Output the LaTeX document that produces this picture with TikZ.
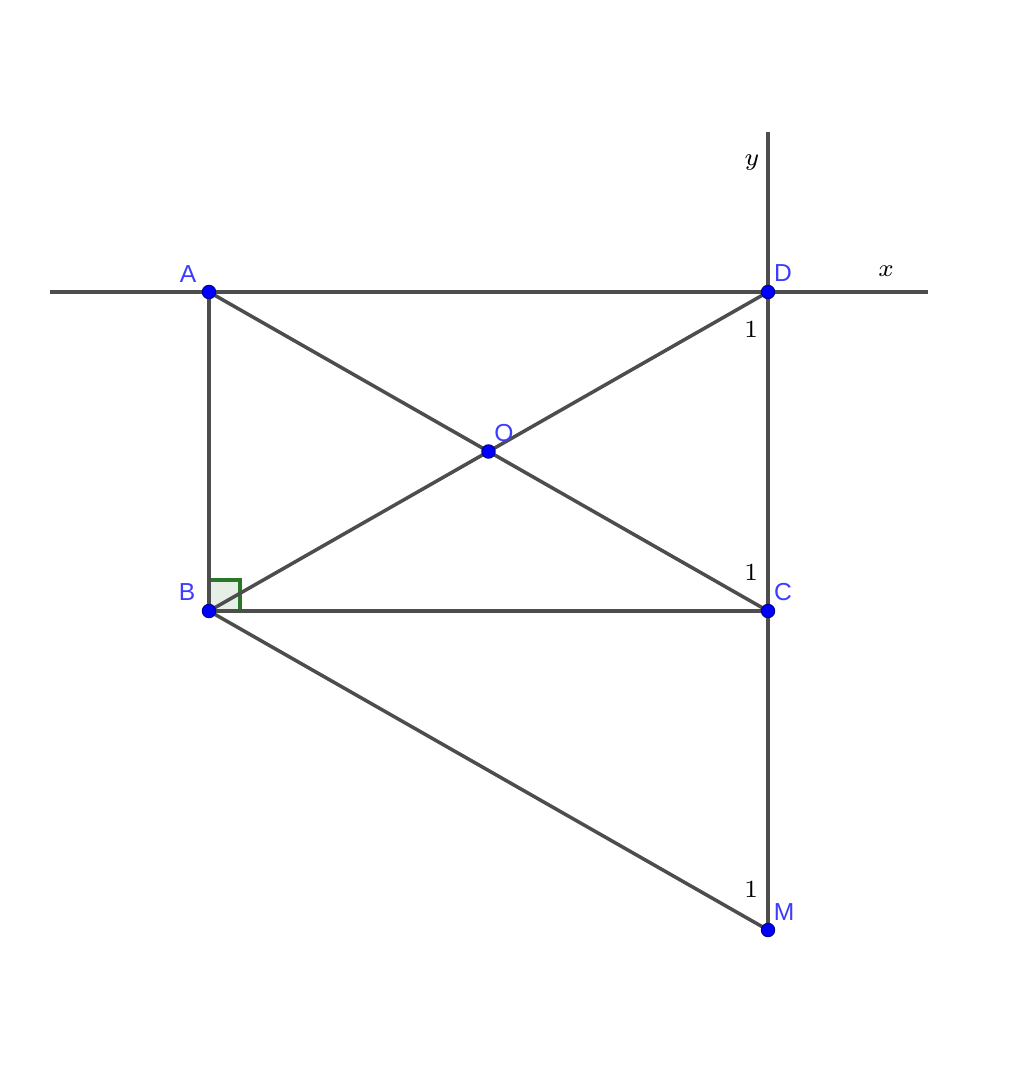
\documentclass[tikz,border=0pt]{standalone}
\usepackage{fontspec}
\setsansfont{Liberation Sans}
\usetikzlibrary{calc}

\definecolor{segcol}{RGB}{77,77,77}
\definecolor{ptcol}{RGB}{0,0,255}
\definecolor{lblcol}{RGB}{60,60,255}
\definecolor{angcol}{RGB}{40,120,40}

\tikzset{
  seg/.style={segcol, line width=1pt},
  pt/.style={circle, fill=ptcol, draw=ptcol!60!black, line width=0.3pt, inner sep=0pt, minimum size=3.8pt},
  ptlabel/.style={text=lblcol, font=\sffamily\fontsize{7}{8}\selectfont, inner sep=0pt},
  anglabel/.style={font=\fontsize{7.2}{8}\selectfont, inner sep=0pt}
}

\begin{document}
\begin{tikzpicture}[x=1cm,y=1cm]

\useasboundingbox (0,0) rectangle (10.24,-10.66);

\coordinate (A) at (2.09,-2.92);
\coordinate (D) at (7.68,-2.92);
\coordinate (B) at (2.09,-6.11);
\coordinate (C) at (7.68,-6.11);
\coordinate (M) at (7.68,-9.30);
\coordinate (O) at ($(A)!0.5!(C)$);
\coordinate (xl) at (0.50,-2.92);
\coordinate (xr) at (9.28,-2.92);
\coordinate (yt) at (7.68,-1.32);

% right angle at B
\filldraw[angcol, fill=angcol!12, line width=0.9pt] (B) rectangle ++(0.31,0.31);

% axes
\draw[seg] (xl) -- (xr);
\draw[seg] (yt) -- (M);

% rectangle and diagonals
\draw[seg] (A) -- (B) -- (C);
\draw[seg] (A) -- (C);
\draw[seg] (B) -- (D);
\draw[seg] (B) -- (M);

% points
\node[pt] (pA) at (A) {};
\node[pt] (pD) at (D) {};
\node[pt] (pB) at (B) {};
\node[pt] (pC) at (C) {};
\node[pt] (pM) at (M) {};
\node[pt] (pO) at (O) {};

\node[ptlabel] (lA) at (1.88,-2.74) {A};
\node[ptlabel] (lD) at (7.83,-2.73) {D};
\node[ptlabel] (lB) at (1.87,-5.92) {B};
\node[ptlabel] (lC) at (7.83,-5.92) {C};
\node[ptlabel] (lO) at (5.04,-4.33) {O};
\node[ptlabel] (lM) at (7.84,-9.12) {M};

% angle marks and axis names
\node[anglabel] (a1) at (7.51,-3.30) {$1$};
\node[anglabel] (a2) at (7.51,-5.73) {$1$};
\node[anglabel] (a3) at (7.51,-8.90) {$1$};
\node[anglabel] (lx) at (8.86,-2.71) {$x$};
\node[anglabel] (ly) at (7.52,-1.63) {$y$};

\end{tikzpicture}
\end{document}
